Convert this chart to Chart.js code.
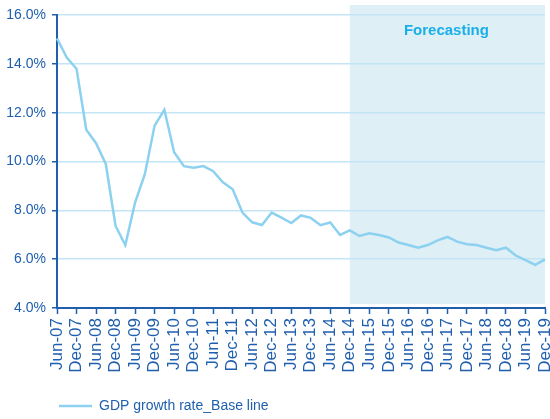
<!DOCTYPE html>
<html>
<head>
<meta charset="utf-8">
<script src="https://cdn.jsdelivr.net/npm/chart.js@4/dist/chart.umd.min.js"></script>
<style>
html,body{margin:0;padding:0;background:#fff;}
#wrap{width:550px;height:419px;position:relative;}
</style>
</head>
<body>
<div id="wrap"><canvas id="c" width="550" height="419"></canvas></div>
<script>
const quarters = [
  "Jun-07","Sep-07","Dec-07","Mar-08","Jun-08","Sep-08","Dec-08","Mar-09","Jun-09","Sep-09",
  "Dec-09","Mar-10","Jun-10","Sep-10","Dec-10","Mar-11","Jun-11","Sep-11","Dec-11","Mar-12",
  "Jun-12","Sep-12","Dec-12","Mar-13","Jun-13","Sep-13","Dec-13","Mar-14","Jun-14","Sep-14",
  "Dec-14","Mar-15","Jun-15","Sep-15","Dec-15","Mar-16","Jun-16","Sep-16","Dec-16","Mar-17",
  "Jun-17","Sep-17","Dec-17","Mar-18","Jun-18","Sep-18","Dec-18","Mar-19","Jun-19","Sep-19",
  "Dec-19"
];
const gdpGrowth = [
  15.04,14.26,13.80,11.30,10.75,9.90,7.36,6.58,8.32,9.48,
  11.47,12.12,10.38,9.81,9.74,9.81,9.60,9.15,8.86,7.91,
  7.51,7.40,7.91,7.70,7.48,7.79,7.69,7.39,7.50,6.99,
  7.18,6.95,7.06,6.99,6.89,6.68,6.58,6.47,6.58,6.77,
  6.91,6.72,6.61,6.58,6.47,6.37,6.47,6.15,5.96,5.77,
  5.99
];
const seriesName = "GDP growth rate_Base line";
const forecastStart = "Dec-14";
const forecastLabel = "Forecasting";
const yTicks = [4,6,8,10,12,14,16];

const axisBlue = '#1f5fae';
const regular = "'Liberation Sans',Arial,sans-serif";

const forecastPlugin = {
  id: 'forecast',
  beforeDraw(chart) {
    const {ctx, chartArea, scales} = chart;
    const xs = scales.x.getPixelForValue(quarters.indexOf(forecastStart));
    const top = chartArea.top - 10;
    const bottom = chartArea.bottom - 4;
    ctx.save();
    ctx.fillStyle = '#deeff5';
    ctx.fillRect(xs, top, chartArea.right - xs, bottom - top);
    ctx.restore();
  },
  afterDatasetsDraw(chart) {
    const {ctx, chartArea, scales} = chart;
    const xs = scales.x.getPixelForValue(quarters.indexOf(forecastStart));
    ctx.save();
    ctx.fillStyle = '#1aafe8';
    ctx.font = "bold 15px " + regular;
    ctx.textAlign = 'center';
    ctx.textBaseline = 'alphabetic';
    ctx.fillText(forecastLabel, (xs + chartArea.right) / 2 - 1, chartArea.top + 20);
    ctx.restore();
  },
  afterLayout(chart) {
    if (chart.legend) {
      chart.legend.left += 56; chart.legend.right += 56;
      chart.legend.top += 4; chart.legend.bottom += 4;
    }
  }
};

new Chart(document.getElementById('c'), {
  type: 'line',
  data: {
    labels: quarters,
    datasets: [{
      label: seriesName,
      data: gdpGrowth,
      borderColor: '#8dd1f1',
      backgroundColor: '#8dd1f1',
      borderWidth: 2.5,
      pointRadius: 0,
      tension: 0,
      fill: false
    }]
  },
  options: {
    responsive: false,
    animation: false,
    devicePixelRatio: 1,
    layout: { padding: { left: 0, right: 5, top: 15, bottom: 0 } },
    plugins: {
      legend: {
        position: 'bottom',
        align: 'start',
        labels: {
          usePointStyle: true,
          pointStyle: 'line',
          pointStyleWidth: 33,
          boxHeight: 2,
          padding: 3,
          color: axisBlue,
          font: { family: regular, size: 14 }
        }
      },
      tooltip: { enabled: false }
    },
    scales: {
      x: {
        offset: false,
        afterFit(s) { s.height = 84; s.paddingLeft = 0; s.paddingRight = 0; },
        border: { color: axisBlue, width: 2 },
        grid: { display: true, drawOnChartArea: false, drawTicks: true, tickLength: 6, tickColor: axisBlue, tickWidth: 1.5 },
        ticks: {
          autoSkip: false,
          maxRotation: 90,
          minRotation: 90,
          padding: 4,
          color: axisBlue,
          font: { family: regular, size: 17 },
          callback: function(v, i) { return i % 2 === 0 ? quarters[i] : null; }
        }
      },
      y: {
        min: 4,
        max: 16,
        afterFit(s) { s.width = 57; },
        afterBuildTicks(s) { s.ticks = yTicks.map(v => ({ value: v })); },
        border: { color: axisBlue, width: 2 },
        grid: { color: '#c3e6f6', lineWidth: 1.5, tickLength: 5, tickColor: axisBlue, tickWidth: 1.5 },
        ticks: {
          padding: 6,
          color: axisBlue,
          font: { family: regular, size: 14 },
          callback: v => v.toFixed(1) + '%'
        }
      }
    }
  },
  plugins: [forecastPlugin]
});
</script>
</body>
</html>
